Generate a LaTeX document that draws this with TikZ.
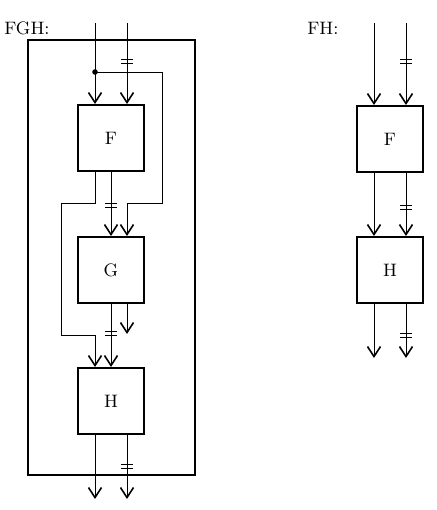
\documentclass[tikz,border=0pt]{standalone}
\usepackage{tikz}
\usetikzlibrary{arrows.meta,positioning,calc}
\tikzset{
  >={Straight Barb[length=5pt,width=6.5pt,line width=0.8pt]},
  blk/.style  ={draw,line width=1pt,minimum width=33pt,minimum height=33pt,
                inner sep=0pt,font=\small},
  frame/.style={draw,line width=1pt,minimum width=83.5pt,minimum height=217.5pt,
                inner sep=0pt},
  lbl/.style  ={font=\small,inner sep=0pt,anchor=west},
  wire/.style ={line width=0.5pt},
  flow/.style ={->,wire},
  pics/brk/.style={code={\draw[wire] (-6,-2) -- (6,-2) (-6,2) -- (6,2);}},
}

\begin{document}
\begin{tikzpicture}[x=0.5pt,y=-0.5pt]
\useasboundingbox (0,0) rectangle (436,510);
% left: FGH
\node[lbl] (lfgh) at (4,28) {FGH:};
\node[frame] (fgh) at (111.5,257.5) {};
\node[blk] (f1) at (111,138) {F};
\node[blk] (g1) at (111,270) {G};
\node[blk] (h1) at (111,401) {H};
\coordinate (a1) at (95,23);
\coordinate (b1) at (127,23);
\coordinate (sp) at (95,72);
\coordinate (g1o) at (127,334);
\coordinate (c1) at (95,499);
\coordinate (d1) at (127,499);
\draw[flow] (a1) -- (a1 |- f1.north);
\draw[flow] (b1) -- (b1 |- f1.north);
\fill (sp) circle[radius=1.4pt];
\draw[flow] (sp) -| (162,203) -| ($(g1.north)+(16,0)$);
\draw[flow] ($(f1.south)+(-16,0)$) |- (61,203) |- (95,335) -- ($(h1.north)+(-16,0)$);
\draw[flow] (f1.south) -- (g1.north);
\draw[flow] (g1.south) -- (h1.north);
\draw[flow] ($(g1.south)+(16,0)$) -- (g1o);
\draw[flow] ($(h1.south)+(-16,0)$) -- (c1);
\draw[flow] ($(h1.south)+(16,0)$) -- (d1);
% right: FH
\node[lbl] (lfh) at (307,28) {FH:};
\node[blk] (f2) at (390,139) {F};
\node[blk] (h2) at (390,270) {H};
\coordinate (a2) at (374,23);
\coordinate (b2) at (406,23);
\coordinate (c2) at (374,358);
\coordinate (d2) at (406,358);
\foreach \p in {a2,b2} \draw[flow] (\p) -- (\p |- f2.north);
\foreach \s in {-16,16} \draw[flow] ($(f2.south)+(\s,0)$) -- ($(h2.north)+(\s,0)$);
\foreach \p in {c2,d2} \draw[flow] (\p |- h2.south) -- (\p);
% double bars
\foreach \x/\y in {127/61,111/205,111/333,127/466,406/61,406/207,406/335}
  \pic at (\x,\y) {brk};
\end{tikzpicture}
\end{document}
